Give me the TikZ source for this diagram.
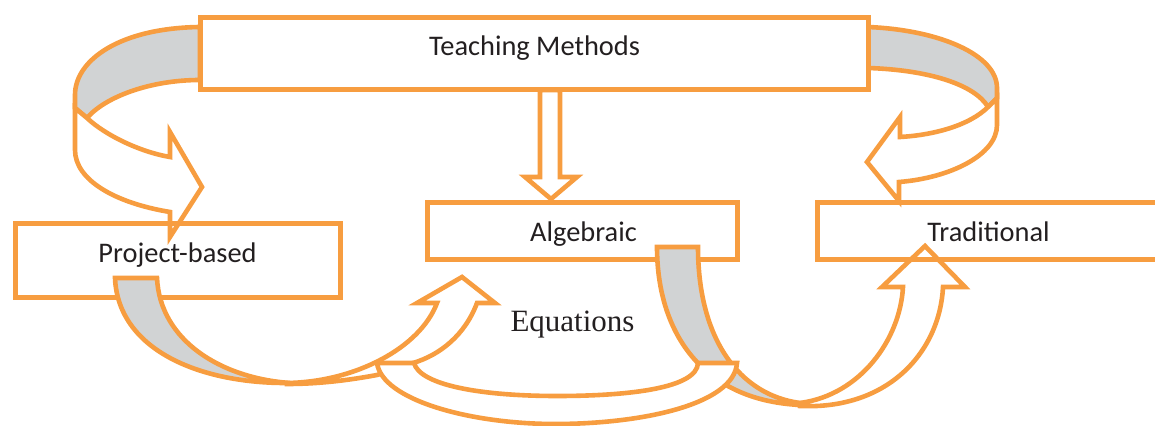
\documentclass[tikz,border=0pt]{standalone}
\usepackage{fontspec}
\setmainfont{Carlito}
\newfontfamily\eqfont{Liberation Serif}
\usetikzlibrary{positioning}
\definecolor{boxorange}{HTML}{F79D40}
\definecolor{bandgray}{HTML}{D1D3D4}
\definecolor{ink}{HTML}{231F20}
\tikzset{
    every picture/.style={line join=miter,miter limit=4},
    band/.style={draw=boxorange,line width=2.3pt},
    backband/.style={band,fill=bandgray},
    frontband/.style={band,fill=white},
    methodbox/.style={draw=boxorange,line width=2.5pt,rectangle,
      inner sep=0pt,outer sep=0pt},
    boxtext/.style={anchor=base,inner sep=0pt,text=ink,
      font=\fontsize{14.2}{16}\selectfont},
    eqtext/.style={anchor=base,inner sep=0pt,text=ink,
      font=\eqfont\fontsize{15.5}{18}\selectfont}
}
\begin{document}
\begin{tikzpicture}[x=0.5pt,y=-0.5pt]
  \useasboundingbox (0,0) rectangle (1155,426);
  \filldraw[backband] (200,27) .. controls (120,28) and (75,60) .. (75,95)
    -- (75,108) -- (87,118) .. controls (105,97) and (150,80) .. (200,80) -- cycle;
  \filldraw[frontband] (75,108) -- (87,118) .. controls (105,135) and (140,152) .. (170,157)
    -- (170,132) -- (202,187) -- (170,237) -- (170,212)
    .. controls (115,203) and (75,180) .. (75,150) -- cycle;
  \filldraw[backband] (868,27) .. controls (940,30) and (997,55) .. (997,88)
    -- (997,98) -- (988,107) .. controls (975,85) and (930,70) .. (868,68) -- cycle;
  \filldraw[frontband] (997,98) -- (988,107) .. controls (970,125) and (935,135) .. (900,137)
    -- (900,117) -- (867,162) -- (899,201) -- (899,182)
    .. controls (950,178) and (997,155) .. (997,125) -- cycle;
  \node[methodbox,fill=white,minimum width=334pt,minimum height=36pt] (tm) at (534,54) {};
  \filldraw[frontband] (540,90) -- (540,177) -- (525,177) -- (551,199) -- (577,177)
    -- (560,177) -- (560,90) -- cycle;
  \filldraw[frontband] (287,383) .. controls (355,382) and (420,348) .. (437,303)
    -- (417,303) -- (462,277) -- (495,303) -- (477,303)
    .. controls (465,335) and (440,355) .. (413,363) -- (377,375)
    .. controls (350,380) and (320,384) .. (287,384) -- cycle;
  \filldraw[frontband] (800,403) .. controls (860,395) and (900,340) .. (903,287)
    -- (882,287) -- (925,246) -- (965,287) -- (943,287)
    .. controls (940,350) and (890,410) .. (800,406) -- cycle;
  \node[methodbox,minimum width=162.5pt,minimum height=37pt] (pb) at (177.5,261) {};
  \node[methodbox,minimum width=155pt,minimum height=28.5pt] (al) at (582,231.5) {};
  \node[methodbox,minimum width=179pt,minimum height=28.5pt] (tr) at (996,231.5) {};
  \filldraw[backband] (115,278) -- (157,278) .. controls (160,340) and (220,378) .. (290,383)
    .. controls (200,384) and (118,350) .. (115,278) -- cycle;
  \filldraw[backband] (657,247) -- (698,247) .. controls (698,340) and (740,395) .. (800,403)
    -- (800,405) .. controls (700,400) and (657,330) .. (657,247) -- cycle;
  \filldraw[frontband] (377,363) -- (414,363) .. controls (420,385) and (480,396) .. (557,396)
    .. controls (630,396) and (697,388) .. (698,363) -- (737,363)
    .. controls (734,405) and (640,424) .. (555,424)
    .. controls (470,424) and (382,400) .. (377,363) -- cycle;
  \node[boxtext] (tmtext) at (534.5,56) {Teaching Methods};
  \node[boxtext] (pbtext) at (177.5,263) {Project-based};
  \node[boxtext] (altext) at (583.5,242) {Algebraic};
  \node[boxtext] (trtext) at (988.5,242) {Traditional};
  \node[eqtext] (eqtext) at (572.5,332) {Equations};
\end{tikzpicture}
\end{document}
